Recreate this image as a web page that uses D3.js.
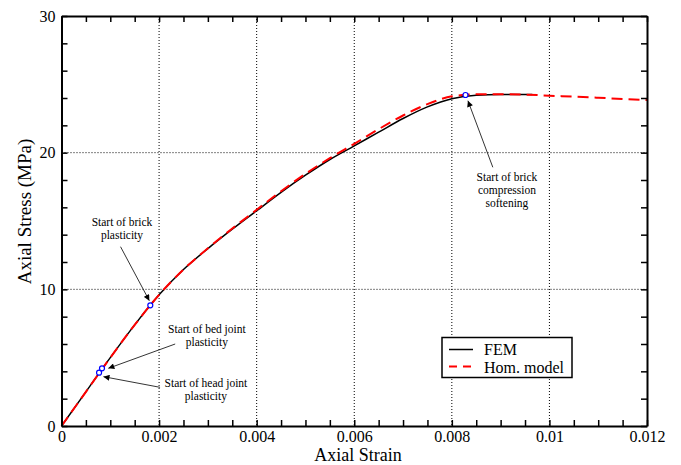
<!DOCTYPE html>
<html>
<head>
<meta charset="utf-8">
<script src="https://cdn.jsdelivr.net/npm/d3@7"></script>
<style>
  body { margin: 0; background: #fff; }
  svg text { font-family: "Liberation Serif", "Times New Roman", serif; fill: #000; }
</style>
</head>
<body>
<svg id="chart" width="681" height="465"></svg>
<script>
// strain values (shared) and stress readings, MPa
var femStrain = [0, 0.0005, 0.001, 0.0015, 0.002, 0.0025, 0.003, 0.0035, 0.004, 0.0045,
                 0.005, 0.0055, 0.006, 0.0065, 0.007, 0.0075, 0.008, 0.0085, 0.009, 0.0095, 0.00965];
var femStress = [0, 2.5, 5.0, 7.4, 9.6, 11.45, 12.98, 14.4, 15.75, 17.1,
                 18.35, 19.5, 20.5, 21.5, 22.5, 23.35, 23.95, 24.2, 24.25, 24.25, 24.25];

var homStrain = [0, 0.0005, 0.001, 0.0015, 0.002, 0.0025, 0.003, 0.0035, 0.004, 0.0045,
                 0.005, 0.0055, 0.006, 0.0065, 0.007, 0.0075, 0.008, 0.0085, 0.009, 0.0095,
                 0.01, 0.0105, 0.011, 0.0115, 0.012];
var homStress = [0, 2.5, 5.0, 7.4, 9.6, 11.45, 13.0, 14.45, 15.82, 17.18,
                 18.45, 19.6, 20.65, 21.72, 22.72, 23.55, 24.12, 24.27, 24.28, 24.25,
                 24.17, 24.1, 24.02, 23.93, 23.85];

// marked events: strain, stress
var eventStrain = [0.00077, 0.00083, 0.00182, 0.00828];
var eventStress = [3.9, 4.22, 8.83, 24.22];

var xTicks = [0, 0.002, 0.004, 0.006, 0.008, 0.01, 0.012];
var yTicks = [0, 10, 20, 30];
var xMinorStep = 0.0005, yMinorStep = 2;

// annotations: text lines, text anchor (strain, stress), arrow from -> to (strain, stress)
var notes = [
  {lines: ["Start of brick", "plasticity"], at: [0.00124, 14.6], from: [0.00121, 13.12], to: [0.0018, 9.17]},
  {lines: ["Start of bed joint", "plasticity"], at: [0.00298, 6.8], from: [0.00233, 6.0], to: [0.00096, 4.22]},
  {lines: ["Start of head joint", "plasticity"], at: [0.00296, 2.85], from: [0.00202, 2.83], to: [0.00086, 3.61]},
  {lines: ["Start of brick", "compression", "softening"], at: [0.00913, 17.9], from: [0.00884, 18.93], to: [0.00833, 23.8]}
];

var svg = d3.select("#chart");
var pLeft = 61.5, pRight = 647, pTop = 16, pBottom = 426;

var x = d3.scaleLinear().domain([0, 0.012]).range([pLeft, pRight]);
var y = d3.scaleLinear().domain([0, 30]).range([pBottom, pTop]);

// grid
var grid = svg.append("g").attr("class", "grid");
grid.selectAll("line.gx")
    .data(xTicks.slice(1, -1)).enter().append("line")
    .attr("x1", function(d) { return x(d); }).attr("x2", function(d) { return x(d); })
    .attr("y1", pTop).attr("y2", pBottom)
    .attr("stroke", "#000").attr("stroke-width", 1).attr("stroke-dasharray", "1,2");
grid.selectAll("line.gy")
    .data(yTicks.slice(1, -1)).enter().append("line")
    .attr("y1", function(d) { return y(d); }).attr("y2", function(d) { return y(d); })
    .attr("x1", pLeft).attr("x2", pRight)
    .attr("stroke", "#000").attr("stroke-width", 1).attr("stroke-dasharray", "1,2");

// curves
var line = d3.line()
    .x(function(d) { return x(d[0]); })
    .y(function(d) { return y(d[1]); })
    .curve(d3.curveMonotoneX);

svg.append("path")
    .datum(d3.zip(femStrain, femStress))
    .attr("d", line)
    .attr("fill", "none").attr("stroke", "#000").attr("stroke-width", 1.5);

svg.append("path")
    .datum(d3.zip(homStrain, homStress))
    .attr("d", line)
    .attr("fill", "none").attr("stroke", "#ff0000").attr("stroke-width", 2)
    .attr("stroke-dasharray", "11,6");

// arrows
svg.append("defs").append("marker")
    .attr("id", "head")
    .attr("viewBox", "0 0 10 10")
    .attr("refX", 10).attr("refY", 5)
    .attr("markerWidth", 8).attr("markerHeight", 6)
    .attr("markerUnits", "userSpaceOnUse")
    .attr("orient", "auto")
  .append("path")
    .attr("d", "M0,0L10,5L0,10Z")
    .attr("fill", "#000");

var ann = svg.append("g").attr("class", "notes");
ann.selectAll("line")
    .data(notes).enter().append("line")
    .attr("x1", function(d) { return x(d.from[0]); })
    .attr("y1", function(d) { return y(d.from[1]); })
    .attr("x2", function(d) { return x(d.to[0]); })
    .attr("y2", function(d) { return y(d.to[1]); })
    .attr("stroke", "#000").attr("stroke-width", 0.8)
    .attr("marker-end", "url(#head)");

var txt = ann.selectAll("text")
    .data(notes).enter().append("text")
    .attr("text-anchor", "middle")
    .attr("font-size", 11.5)
    .attr("fill", "#222");
txt.selectAll("tspan")
    .data(function(d) { return d.lines.map(function(l) { return {t: l, p: d.at}; }); })
    .enter().append("tspan")
    .attr("x", function(d) { return x(d.p[0]); })
    .attr("y", function(d, i) { return y(d.p[1]) + i * 12.8; })
    .text(function(d) { return d.t; });

// event markers
svg.append("g").selectAll("circle")
    .data(d3.zip(eventStrain, eventStress)).enter().append("circle")
    .attr("cx", function(d) { return x(d[0]); })
    .attr("cy", function(d) { return y(d[1]); })
    .attr("r", 2.5)
    .attr("fill", "#fff").attr("stroke", "#0000ff").attr("stroke-width", 1.2);

// axes, ticks inward on all four sides
var xMinor = d3.range(0, Math.round(0.012 / xMinorStep) + 1).map(function(i) { return i * xMinorStep; });
var yMinor = d3.range(0, 30 / yMinorStep + 1).map(function(i) { return i * yMinorStep; });
var fmtX = function(d) { return d === 0 ? "0" : String(+d.toFixed(3)); };

function isMajor(list, d) {
  return list.some(function(t) { return Math.abs(t - d) < 1e-9; });
}

function styleAxis(g) {
  g.attr("font-size", 16).attr("font-family", "Liberation Serif, Times New Roman, serif");
  g.select(".domain").attr("stroke-width", 2);
  g.selectAll(".tick line").attr("stroke-width", 1.5);
}

svg.append("g")
    .attr("transform", "translate(0," + pBottom + ")")
    .call(d3.axisBottom(x).tickValues(xMinor).tickSize(-6).tickSizeOuter(0).tickPadding(5)
      .tickFormat(function(d) { return isMajor(xTicks, d) ? fmtX(d) : ""; }))
    .call(styleAxis);

svg.append("g")
    .attr("transform", "translate(0," + pTop + ")")
    .call(d3.axisTop(x).tickValues(xMinor).tickSize(-6).tickSizeOuter(0).tickFormat(""))
    .call(styleAxis);

svg.append("g")
    .attr("transform", "translate(" + pLeft + ",0)")
    .call(d3.axisLeft(y).tickValues(yMinor).tickSize(-6).tickSizeOuter(0).tickPadding(6)
      .tickFormat(function(d) { return isMajor(yTicks, d) ? String(d) : ""; }))
    .call(styleAxis);

svg.append("g")
    .attr("transform", "translate(" + pRight + ",0)")
    .call(d3.axisRight(y).tickValues(yMinor).tickSize(-6).tickSizeOuter(0).tickFormat(""))
    .call(styleAxis);

// axis titles
svg.append("text")
    .attr("x", 358).attr("y", 461)
    .attr("text-anchor", "middle")
    .attr("font-size", 18)
    .text("Axial Strain");

svg.append("text")
    .attr("transform", "translate(31,211.5) rotate(-90)")
    .attr("text-anchor", "middle")
    .attr("font-size", 19)
    .text("Axial Stress (MPa)");

// legend
var leg = svg.append("g").attr("transform", "translate(442,337.5)");
leg.append("rect")
    .attr("width", 130).attr("height", 40)
    .attr("fill", "#fff").attr("stroke", "#000").attr("stroke-width", 1.5);
leg.append("line")
    .attr("x1", 7).attr("x2", 31).attr("y1", 12).attr("y2", 12)
    .attr("stroke", "#000").attr("stroke-width", 1.5);
leg.append("line")
    .attr("x1", 7).attr("x2", 31).attr("y1", 29).attr("y2", 29)
    .attr("stroke", "#ff0000").attr("stroke-width", 2).attr("stroke-dasharray", "8,6");
leg.append("text").attr("x", 42).attr("y", 17.5).attr("font-size", 16).text("FEM");
leg.append("text").attr("x", 42).attr("y", 35).attr("font-size", 16).text("Hom. model");
</script>
</body>
</html>
